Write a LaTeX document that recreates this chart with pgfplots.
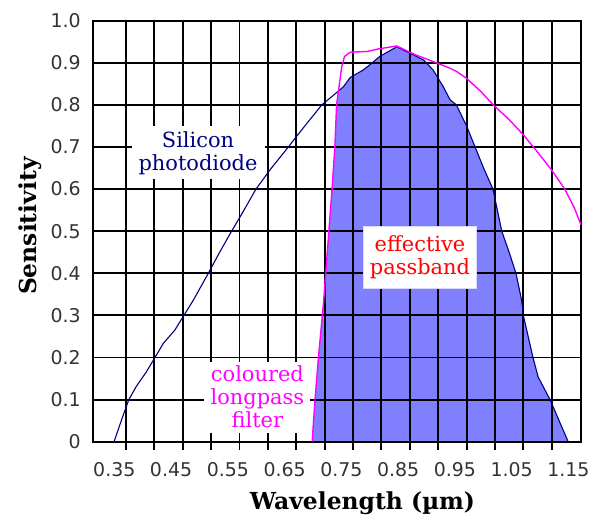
\documentclass[border=0pt]{standalone}
\usepackage{fontspec}
\setmainfont{Liberation Serif}
\newfontfamily\annotfont{DejaVu Serif}
\newfontfamily\tickfont{DejaVu Sans}
\newfontfamily\labelfont{DejaVu Serif}
\usepackage{pgfplots}
\pgfplotsset{compat=1.18}
\definecolor{navyc}{RGB}{0,0,128}
\definecolor{fillc}{RGB}{128,128,255}
\definecolor{magc}{RGB}{255,0,255}
\definecolor{redc}{RGB}{255,0,0}
\begin{document}
\begin{tikzpicture}
\begin{axis}[
  set layers,
  at={(0,0)}, anchor=south west,
  scale only axis, width=487.7bp, height=421bp,
  xmin=0.3174, xmax=1.1766, ymin=0, ymax=1,
  xtick={0.375,0.425,0.475,0.525,0.575,0.625,0.675,0.725,0.775,0.825,0.875,0.925,0.975,1.025,1.075,1.125},
  xticklabels={},
  extra x ticks={0.35,0.45,0.55,0.65,0.75,0.85,0.95,1.05,1.15},
  extra x tick labels={0.35,0.45,0.55,0.65,0.75,0.85,0.95,1.05,1.15},
  extra x tick style={grid=none, major tick length=0pt},
  ytick={0,0.1,0.2,0.3,0.4,0.5,0.6,0.7,0.8,0.9,1.0},
  yticklabels={0,0.1,0.2,0.3,0.4,0.5,0.6,0.7,0.8,0.9,1.0},
  grid=major,
  major grid style={black, line width=1.9bp},
  axis line style={black, line width=2.2bp},
  tick align=outside, xtick pos=left, ytick pos=left,
  major tick length=8bp,
  xtick style={black, line width=1.9bp},
  ytick style={draw=none},
  tick label style={font=\tickfont\fontsize{19}{21}\selectfont, text=black!80},
  xticklabel style={anchor=center, yshift=-28bp, xshift=2.5bp},
  yticklabel style={xshift=-1bp},
  xlabel={Wavelength (µm)},
  ylabel={Sensitivity},
  xlabel style={at={(axis description cs:0.552,-0.145)}, anchor=center, font=\labelfont\bfseries\fontsize{23.5}{26}\selectfont},
  ylabel style={at={(axis description cs:-0.129,0.512)}, anchor=center, font=\labelfont\bfseries\fontsize{23.5}{26}\selectfont},
]
% effective passband fill
\addplot[fill=fillc, draw=none, on layer=axis background] coordinates {
(0.703,0.000) (0.708,0.100) (0.714,0.200) (0.723,0.330) (0.738,0.600)
(0.743,0.700) (0.746,0.800) (0.749,0.833)
(0.758,0.843) (0.770,0.865) (0.793,0.883) (0.808,0.899) (0.822,0.915)
(0.852,0.938) (0.875,0.923) (0.899,0.907) (0.916,0.883) (0.934,0.843)
(0.946,0.812) (0.957,0.800) (0.975,0.750) (0.990,0.700) (1.005,0.650)
(1.0215,0.600) (1.037,0.500) (1.050,0.450) (1.062,0.400) (1.072,0.336)
(1.075,0.300) (1.092,0.200) (1.101,0.154) (1.122,0.100) (1.138,0.050)
(1.154,0.000)
} -- cycle;
% annotation boxes
\node[fill=white, inner sep=0pt, minimum width=133bp, minimum height=53bp, align=center,
  text=navyc, font=\annotfont\fontsize{21}{23}\selectfont] at (axis cs:0.5019,0.686) {Silicon\\photodiode};
\node[fill=white, draw=blue!15, line width=0.8bp, inner sep=0pt, minimum width=113bp, minimum height=62bp, align=center,
  text=redc, font=\annotfont\fontsize{21}{23}\selectfont] at (axis cs:0.893,0.4387) {effective\\passband};
\node[fill=white, inner sep=0pt, minimum width=106bp, minimum height=71bp, align=center,
  text=magc, font=\annotfont\fontsize{21}{23}\selectfont] at (axis cs:0.6065,0.106) {coloured\\longpass\\filter};
% silicon photodiode
\addplot[navyc, line width=1.1bp] coordinates {
(0.354,0.000) (0.368,0.055) (0.380,0.100) (0.393,0.131) (0.411,0.166)
(0.426,0.200) (0.441,0.234) (0.461,0.265) (0.477,0.300) (0.494,0.337)
(0.520,0.400) (0.540,0.450) (0.561,0.500) (0.576,0.534) (0.604,0.600)
(0.630,0.648) (0.661,0.700) (0.690,0.750) (0.720,0.800) (0.737,0.819)
(0.758,0.843) (0.770,0.865) (0.793,0.883) (0.808,0.899) (0.822,0.915)
(0.852,0.938) (0.875,0.923) (0.899,0.907) (0.916,0.883) (0.934,0.843)
(0.946,0.812) (0.957,0.800) (0.975,0.750) (0.990,0.700) (1.005,0.650)
(1.0215,0.600) (1.037,0.500) (1.050,0.450) (1.062,0.400) (1.072,0.336)
(1.075,0.300) (1.092,0.200) (1.101,0.154) (1.122,0.100) (1.138,0.050)
(1.154,0.000)
};
% coloured longpass filter
\addplot[magc, line width=1.4bp] coordinates {
(0.703,0.000) (0.708,0.100) (0.714,0.200) (0.723,0.330) (0.738,0.600)
(0.743,0.700) (0.746,0.800) (0.751,0.850) (0.755,0.890) (0.760,0.915)
(0.770,0.925) (0.800,0.927) (0.820,0.933) (0.852,0.940) (0.875,0.925)
(0.887,0.918) (0.916,0.903) (0.946,0.887) (0.958,0.879) (0.975,0.863)
(1.000,0.832) (1.022,0.800) (1.050,0.765) (1.075,0.729) (1.100,0.688)
(1.125,0.645) (1.148,0.600) (1.165,0.555) (1.1766,0.515)
};
\end{axis}
\pgfresetboundingbox
\path[use as bounding box] (-93.3bp,-80.3bp) rectangle (503.7bp,441.7bp);
\end{tikzpicture}
\end{document}
